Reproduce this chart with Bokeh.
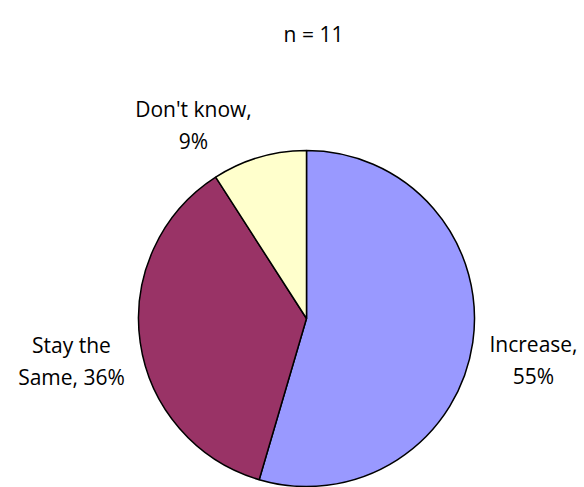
import math
from bokeh.plotting import figure
from bokeh.models import ColumnDataSource, Range1d
from bokeh.core.properties import value
from bokeh.embed import file_html
from bokeh.resources import INLINE

# ---- data ----
categories = ["Increase", "Stay the Same", "Don't know"]
counts = [6, 4, 1]
colors = ["#9999FF", "#993366", "#FFFFCC"]
label_texts = ["Increase,\n55%", "Stay the\nSame, 36%", "Don't know,\n9%"]
title_text = "n = 11"

W, H = 584, 487
p = figure(width=W, height=H, output_backend="svg", toolbar_location=None,
           x_range=Range1d(0, W), y_range=Range1d(0, H), min_border=0)
p.axis.visible = False
p.grid.visible = False
p.outline_line_color = None
p.background_fill_color = "white"
p.border_fill_color = "white"


def fy(py):
    return H - py


cx, cy, r = 306.0, fy(318.0), 168.0
total = sum(counts)
starts, ends = [], []
a = math.pi / 2
for c in counts:
    b = a - 2 * math.pi * c / total
    starts.append(a)
    ends.append(b)
    a = b

src = ColumnDataSource(dict(start=starts, end=ends, color=colors,
                            x=[cx] * 3, y=[cy] * 3, cat=categories))
p.wedge(x="x", y="y", radius=r, start_angle="start", end_angle="end",
        direction="clock", fill_color="color", line_color="black",
        line_width=1.5, source=src)

font = value("Open Sans")
# anchor (center x, first-line baseline y) in page px for each label
anchors = [(533, 343), (71, 344), (193, 108)]
line_gap = 32
tx, ty, tt = [], [], []
for (ax, ay), lab in zip(anchors, label_texts):
    for i, line in enumerate(lab.split("\n")):
        tx.append(ax)
        ty.append(fy(ay + i * line_gap))
        tt.append(line)
p.text(x=tx, y=ty, text=tt, text_align="center", text_baseline="alphabetic",
       text_font=font, text_font_size="21px", text_color="black")
p.text(x=[313], y=[fy(33)], text=[title_text], text_align="center",
       text_baseline="alphabetic", text_font=font, text_font_size="21px",
       text_color="black")

open("out.html", "w").write(file_html(p, INLINE))
